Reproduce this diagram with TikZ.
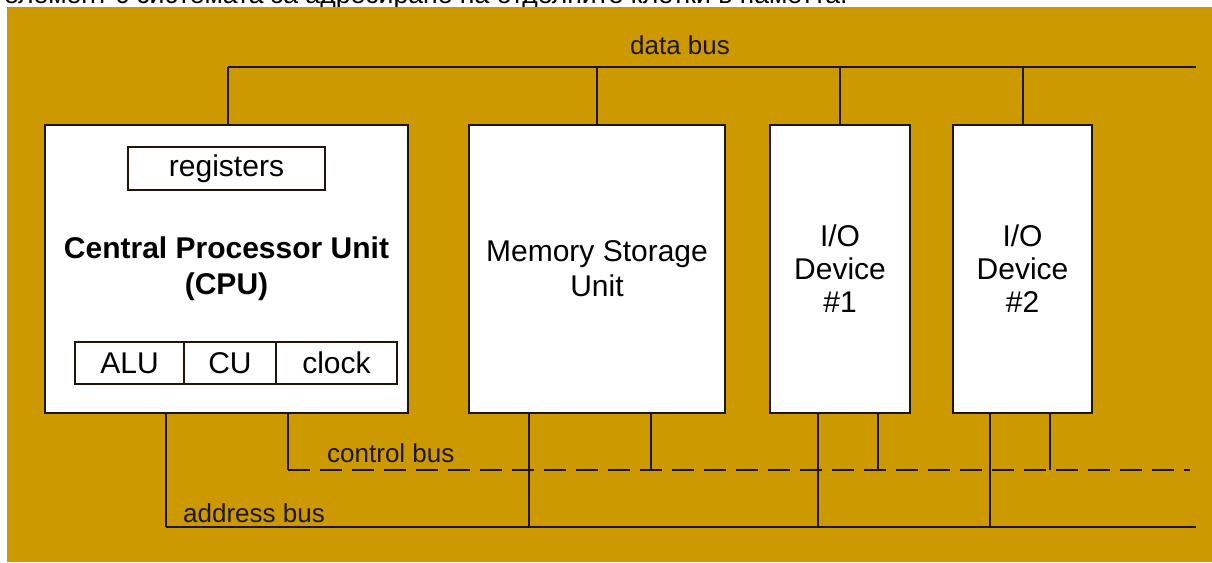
\documentclass[tikz,border=0pt]{standalone}
\usepackage{fontspec}
\setmainfont{Liberation Sans}
\usepackage{tikz}
\usetikzlibrary{positioning}

\definecolor{bgorange}{RGB}{204,153,0}
\definecolor{wirecol}{RGB}{30,22,12}

\tikzset{
	unit/.style={draw=wirecol, fill=white, line width=2pt, inner sep=0pt, outer sep=0pt, align=center, font=\fontsize{30}{34}\selectfont},
	part/.style={draw=wirecol, fill=white, line width=2pt, inner sep=0pt, outer sep=0pt, font=\fontsize{30}{36}\selectfont},
	bus/.style={draw=wirecol, line width=2pt},
	buslabel/.style={font=\fontsize{26}{30}\selectfont, text=wirecol, inner sep=0pt}
}

\begin{document}
\begin{tikzpicture}[x=1pt, y=-1pt]
	\useasboundingbox (0,0) rectangle (1212,562);
	% cut-off line of the page above
	\begin{scope}
		\clip (0,0) rectangle (1212,7);
		\node[anchor=base west, inner sep=0pt, font=\fontsize{26.6}{30}\selectfont] (pagetext) at (4,3) {елемент с системата за адресиране на отделните клетки в паметта.};
	\end{scope}
	\fill[bgorange] (7,7) rectangle (1212,562);

	% units
	\node[unit, minimum width=363pt, minimum height=288pt, font=\bfseries\fontsize{30}{36}\selectfont] (cpu) at (226.5,269) {Central Processor Unit\\(CPU)};
	\node[unit, minimum width=256pt, minimum height=288pt, font=\fontsize{30}{35}\selectfont] (mem) at (597,269) {Memory Storage\\Unit};
	\node[unit, minimum width=140pt, minimum height=288pt, font=\fontsize{30}{33}\selectfont] (io1) at (840,269) {I/O\\Device\\\#1};
	\node[unit, minimum width=139pt, minimum height=288pt, font=\fontsize{30}{33}\selectfont] (io2) at (1022.5,269) {I/O\\Device\\\#2};

	% parts of the cpu
	\node[part, minimum width=197pt, minimum height=43pt] (regs) at (226.5,168.5) {registers};
	\node[part, minimum width=109pt, minimum height=42pt] (alu) at (129.5,363) {ALU};
	\node[part, minimum width=92pt, minimum height=42pt, right=0pt of alu] (cu) {CU};
	\node[part, minimum width=121pt, minimum height=42pt, right=0pt of cu] (clk) {clock};

	% buses
	\coordinate (db-l) at (228,67);
	\coordinate (db-r) at (1196,67);
	\coordinate (cb-l) at (288,470);
	\coordinate (cb-r) at (1190,470);
	\coordinate (ab-l) at (166,527);
	\coordinate (ab-r) at (1196,527);
	\coordinate (ab-mem) at (529,527);
	\coordinate (cb-mem) at (651,470);
	\coordinate (ab-io1) at (818,527);
	\coordinate (cb-io1) at (878,470);
	\coordinate (ab-io2) at (990,527);
	\coordinate (cb-io2) at (1050,470);

	\draw[bus] (db-l) -- (db-r);
	\draw[bus, dash pattern=on 22pt off 10pt] (cb-l) -- (cb-r);
	\draw[bus] (ab-l) -- (ab-r);

	\draw[bus] (db-l) -- (cpu.north -| db-l);
	\foreach \n in {mem,io1,io2}
		\draw[bus] (\n.north |- db-l) -- (\n.north);

	\draw[bus] (cpu.south -| ab-l) -- (ab-l);
	\draw[bus] (cpu.south -| cb-l) -- (cb-l);
	\foreach \n in {mem,io1,io2}{
		\draw[bus] (\n.south -| ab-\n) -- (ab-\n);
		\draw[bus] (\n.south -| cb-\n) -- (cb-\n);
	}

	% labels
	\node[buslabel] (dblabel) at (680,45) {data bus};
	\node[buslabel, anchor=west] (cblabel) at (327,453) {control bus};
	\node[buslabel, anchor=west] (ablabel) at (183,513) {address bus};
\end{tikzpicture}
\end{document}
